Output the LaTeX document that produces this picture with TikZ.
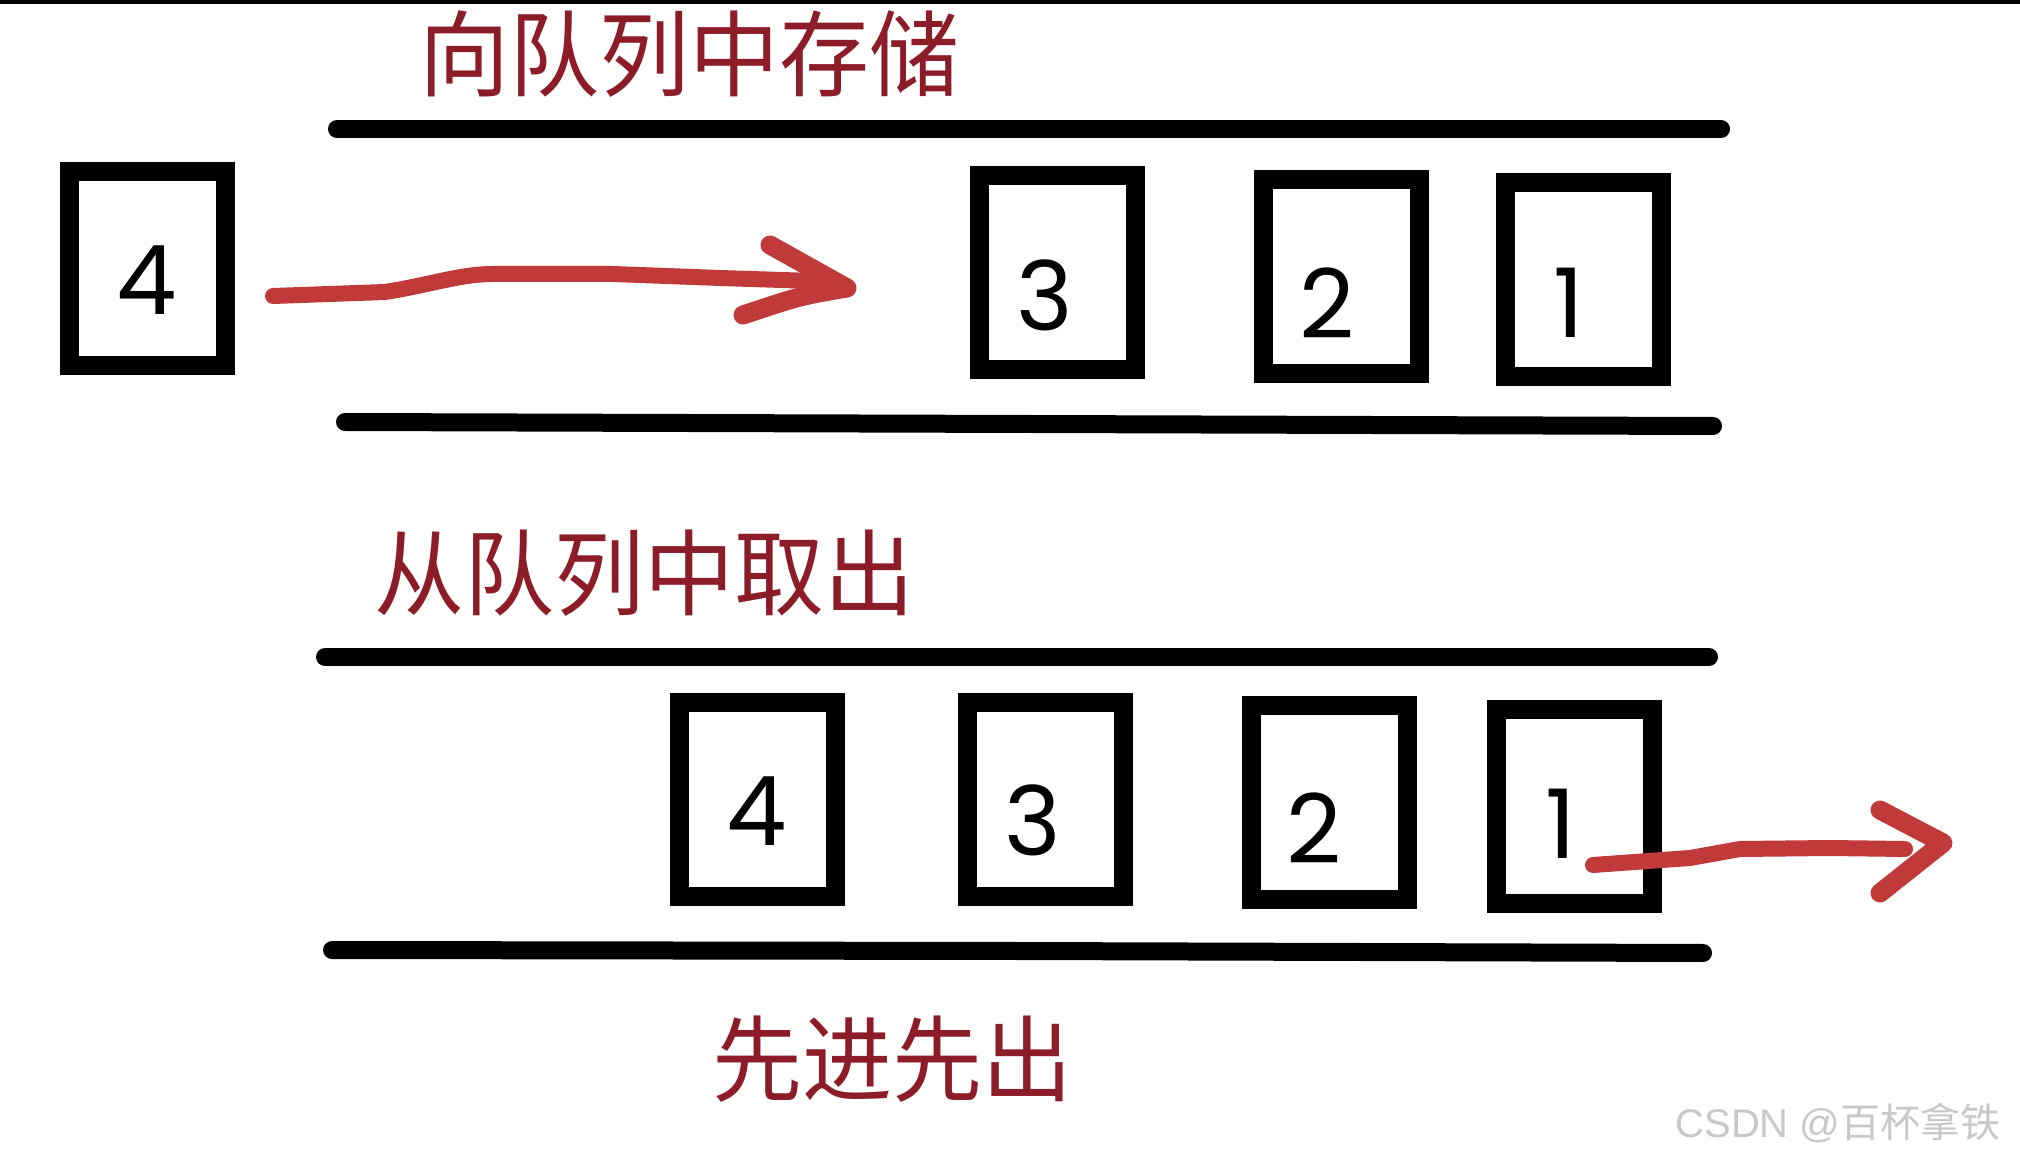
\documentclass[tikz,border=0pt]{standalone}
\usepackage{fontspec}
\setmainfont{Liberation Sans}
\newfontfamily\cjk{Noto Sans CJK SC}
\newfontfamily\digitfont{Poppins}
\usetikzlibrary{calc,positioning}

\definecolor{titlered}{RGB}{140,28,40}
\definecolor{penred}{RGB}{192,58,58}
\definecolor{markgray}{RGB}{200,200,200}

\tikzset{
  qbox/.style={draw=black, line width=9.5pt, minimum width=78pt, minimum height=97pt, inner sep=0pt},
  digit/.style={font=\digitfont\fontsize{48}{48}\selectfont, inner sep=0pt},
  rail/.style={line width=9pt, line cap=round},
  title/.style={text=titlered, font=\cjk\fontsize{45}{45}\selectfont, inner sep=0pt, yscale=1.04},
  pen/.style={draw=penred, line width=8pt, line cap=round, line join=round},
}

\begin{document}
\begin{tikzpicture}[x=0.5pt, y=-0.5pt]

    %\draw (0,0) grid[step=100] (2020,1160);
    \useasboundingbox (0,0) rectangle (2020,1160);
    \fill[white] (0,0) rectangle (2020,1160);
    \fill[black] (0,0) rectangle (2020,4);

    \node[title] (push) at (689,54) {向队列中存储};
    \node[title] (pop) at (644,573) {从队列中取出};
    \node[title] (fifo) at (892,1059) {先进先出};

    % upper queue
    \coordinate (R1a) at (337,129);
    \coordinate (R1b) at (1721,129);
    \coordinate (R2a) at (345,422);
    \coordinate (R2m) at (1030,424);
    \coordinate (R2b) at (1713,426);

    \node[qbox] (b4a) at (147.5,269) {};
    \node[qbox] (b3a) at (1057,272.5) {};
    \node[qbox] (b2a) at (1341,276.5) {};
    \node[qbox] (b1a) at (1583.5,279.5) {};

    \node[digit] (d4a) at (147,280) {4};
    \node[digit] (d3a) at (1045,295) {3};
    \node[digit] (d2a) at (1327,303) {2};
    \node[digit] (d1a) at (1569,303) {1};

    % lower queue
    \coordinate (R3a) at (325,657);
    \coordinate (R3b) at (1709,657);
    \coordinate (R4a) at (332,950);
    \coordinate (R4m) at (1018,951);
    \coordinate (R4b) at (1703,953);

    \node[qbox] (b4b) at (757.5,799.5) {};
    \node[qbox] (b3b) at (1045.5,799.5) {};
    \node[qbox] (b2b) at (1329,802) {};
    \node[qbox] (b1b) at (1574,806) {};

    \node[digit] (d4b) at (757,811) {4};
    \node[digit] (d3b) at (1033,820) {3};
    \node[digit] (d2b) at (1314,828) {2};
    \node[digit] (d1b) at (1561,824) {1};

	\draw[rail] (R1a) -- (R1b);
	\draw[rail] (R2a) -- (R2m) -- (R2b);
	\draw[rail] (R3a) -- (R3b);
	\draw[rail] (R4a) -- (R4m) -- (R4b);

    % push arrow
    \coordinate (inS) at (273,296);
    \coordinate (inE) at (847,288);
    \draw[pen] (inS) -- (385,292) .. controls (430,285) and (460,274) .. (493,274)
        -- (613,274) -- (720,278) -- (813,281) -- (inE);
    \draw[pen, line width=9.5pt] (770,245) -- (inE) .. controls (800,296) .. (743,315);

    % pop arrow
    \coordinate (outS) at (1593,865);
    \coordinate (outE) at (1943,843);
    \draw[pen] (outS) -- (1690,858) -- (1740,849) -- (1830,848) -- (1905,849);
    \draw[pen, line width=9.5pt] (1880,810) -- (outE) -- (1880,893);

    \node[text=markgray, font=\fontsize{20}{20}\selectfont, inner sep=0pt] (mark) at (1838,1123)
        {CSDN @{\cjk 百杯拿铁}};

\end{tikzpicture}
\end{document}
